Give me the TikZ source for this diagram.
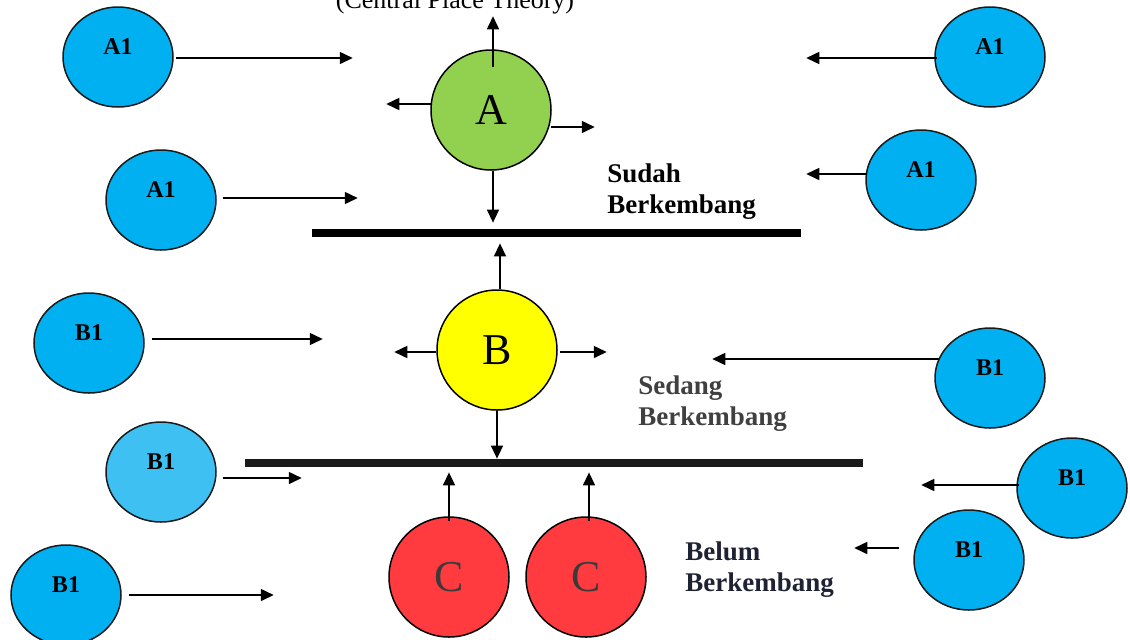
\documentclass[tikz,border=0pt]{standalone}
\usepackage{fontspec}
\setmainfont{Liberation Serif}
\usetikzlibrary{shapes.geometric,arrows.meta}
\definecolor{blobblue}{HTML}{00B0F0}
\definecolor{blobpale}{HTML}{3EC1F2}
\definecolor{edgegrey}{HTML}{1A1A1A}
\definecolor{hubgreen}{HTML}{92D050}
\definecolor{hubyellow}{HTML}{FFFF00}
\definecolor{hubred}{HTML}{FF3B40}
\definecolor{cgrey}{HTML}{3A3A3A}
\definecolor{bargrey}{HTML}{1A1A1A}
\definecolor{sedanggrey}{HTML}{404040}
\definecolor{belumdark}{HTML}{1F2233}
\begin{document}
\begin{tikzpicture}[x=0.5pt,y=-0.5pt,
    blob/.style={ellipse,draw=edgegrey,line width=0.75pt,minimum width=55pt,minimum height=50pt,inner sep=0pt},
    lbl/.style={font=\bfseries\fontsize{12}{14}\selectfont},
    hub/.style={circle,draw=black,line width=0.75pt,minimum size=60pt,inner sep=0pt,font=\fontsize{22}{26}\selectfont},
    bar/.style={fill=black,minimum height=4pt,inner sep=0pt},
    arr/.style={-{Triangle[length=6.5pt,width=6pt]},line width=0.75pt},
    stage/.style={anchor=north west,inner sep=0pt,align=left,font=\bfseries\fontsize{13.5}{15.5}\selectfont}]
			\useasboundingbox (0,0) rectangle (1130,639);
			\clip (0,0) rectangle (1130,639);
			\node[anchor=base,font=\fontsize{13}{15}\selectfont] (cpt) at (455,8) {(Central Place Theory)};
			% satellite areas
			\foreach \nm/\x/\y/\t/\c in {a1a/118/57/A1/blobblue, a1b/990/57/A1/blobblue, a1c/161/200/A1/blobblue, a1d/921/180/A1/blobblue,
				b1a/89/343/B1/blobblue, b1b/990/378/B1/blobblue, b1c/161/472/B1/blobpale, b1d/1072/488/B1/blobblue,
				b1e/969/560/B1/blobblue, b1f/66/595/B1/blobblue}{
				\node[blob,fill=\c,label={[lbl,yshift=5pt]center:\t}] (\nm) at (\x,\y) {};
			}
			\foreach \nm/\a/\dx/\dy/\len in {a1a/east/2/1/177, a1b/west/3/1/-131, a1c/east/6/-2/135, a1d/west/2/-6/-61,
				b1a/east/7/-4/171, b1b/west/5/-19/-227, b1c/east/6/6/79, b1d/west/3/-3/-98, b1e/west/-14/-12/-45, b1f/east/7/0/145}{
				\draw[arr] ([shift={(\dx,\dy)}]\nm.\a) -- ++(\len,0);
			}
			% centres
			\node[hub,fill=hubgreen] (A) at (491,110) {A};
			\node[hub,fill=hubyellow] (B) at (497,350) {B};
			\node[hub,fill=hubred,text=cgrey] (C1) at (449,577) {C};
			\node[hub,fill=hubred,text=cgrey] (C2) at (586,577) {C};
			\node[bar,minimum width=244.5pt] (topbar) at (556.5,233) {};
			\node[bar,fill=bargrey,minimum width=309pt] (lowbar) at (554,463) {};
			\draw[arr] ([shift={(2,18)}]A.north) -- ++(0,-51);
			\draw[arr] ([shift={(1,-6)}]A.west) -- ++(-45,0);
			\draw[arr] ([shift={(-1,17)}]A.east) -- ++(44,0);
			\draw[arr,shorten >=3pt] ([xshift=1pt]A.south) -- ([xshift=1pt]A.south |- topbar.north);
			\draw[arr,shorten >=3pt] ([xshift=1.5pt]B.north) -- ([xshift=1.5pt]B.north |- topbar.south);
			\draw[arr] ([shift={(0,2)}]B.west) -- ++(-42,0);
			\draw[arr] ([shift={(2,2)}]B.east) -- ++(47,0);
			\draw[arr] (B) -- (B |- lowbar.north);
			\draw[arr,shorten >=2.5pt] ([yshift=-2.5pt]C1.north) -- (C1.north |- lowbar.south);
			\draw[arr,shorten >=2.5pt] ([shift={(3,5)}]C2.north) -- ([xshift=1.5pt]C2.north |- lowbar.south);
			% stages
			\node[stage] (sudah) at (607,163) {Sudah\\Berkembang};
			\node[stage,text=sedanggrey] (sedang) at (638,375) {Sedang\\Berkembang};
			\node[stage,text=belumdark] (belum) at (685,541) {Belum\\Berkembang};
		\end{tikzpicture}
\end{document}
